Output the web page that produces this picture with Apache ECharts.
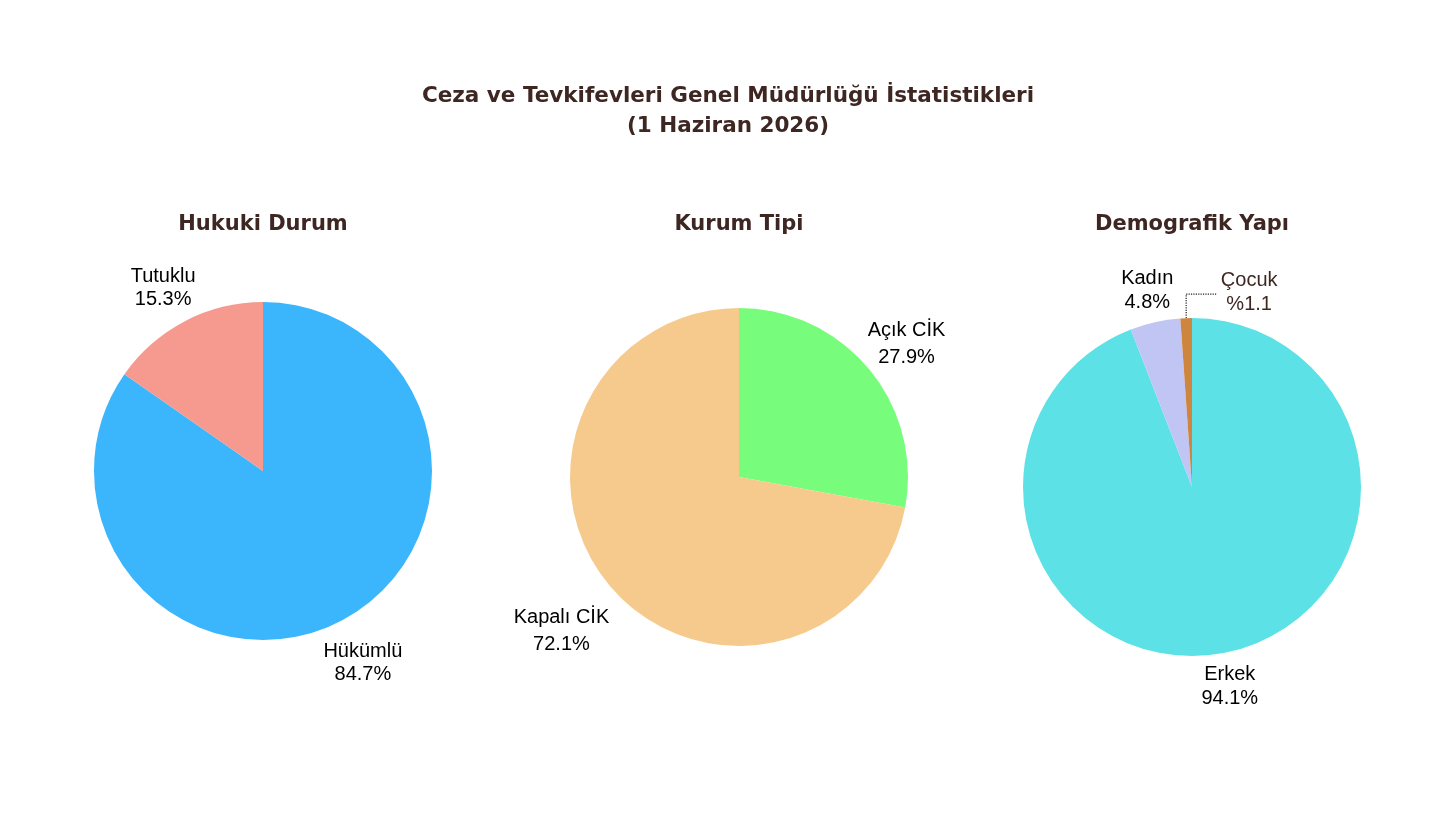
<!DOCTYPE html>
<html>
<head>
<meta charset="utf-8">
<title>Ceza ve Tevkifevleri Genel Müdürlüğü İstatistikleri</title>
<script src="https://cdn.jsdelivr.net/npm/echarts@6/dist/echarts.min.js"></script>
<style>
  html, body { margin: 0; padding: 0; background: #fff; }
  #chart { width: 1456px; height: 819px; }
</style>
</head>
<body>
<div id="chart"></div>
<script>
// veriler (yüzde olarak)
var hukukiNames = ['Hükümlü', 'Tutuklu']
var hukukiValues = [84.7, 15.3]
var kurumNames = ['Açık CİK', 'Kapalı CİK']
var kurumValues = [27.9, 72.1]
var demoNames = ['Erkek', 'Kadın', 'Çocuk']
var demoValues = [94.1, 4.8, 1.1]

var hukukiColors = ['#3bb5fc', '#f69a8f']
var kurumColors = ['#77fd7b', '#f6ca8c']
var demoColors = ['#5ce1e6', '#c0c5f4', '#cd853f']

var titleColor = '#3e2723'
var R = 169
var labelFont = 'Liberation Sans, Arial, sans-serif'
var titleFont = 'DejaVu Sans, sans-serif'

function pctText(p) {
  return p.name + '\n' + p.value.toFixed(1) + '%'
}

// dilimler
function mainPie(names, values, colors, center) {
  return {
    type: 'pie',
    center: center,
    radius: [0, R],
    startAngle: 90,
    clockwise: true,
    silent: true,
    animation: false,
    label: { show: false },
    labelLine: { show: false },
    emphasis: { disabled: true },
    itemStyle: { borderWidth: 0 },
    data: names.map(function (n, i) {
      return { name: n, value: values[i], itemStyle: { color: colors[i] } }
    })
  }
}

// etiketler için şeffaf halka: etiket (r0 + r) / 2 mesafesinde ortalanır
// nudge: dilim sırasına göre küçük [dx, dy] kaydırmaları
function labelRing(names, values, center, dist, lineHeight, hidden, nudge) {
  return {
    type: 'pie',
    center: center,
    radius: [R, 2 * dist - R],
    startAngle: 90,
    clockwise: true,
    silent: true,
    animation: false,
    itemStyle: { color: 'rgba(0,0,0,0)', borderWidth: 0 },
    label: {
      show: true,
      position: 'inside',
      color: '#000',
      fontFamily: labelFont,
      fontSize: 20,
      lineHeight: lineHeight,
      formatter: pctText
    },
    labelLine: { show: false },
    emphasis: { disabled: true },
    labelLayout: function (p) {
      var n = nudge[p.dataIndex]
      return n ? { dx: n[0], dy: n[1] } : {}
    },
    data: names.map(function (n, i) {
      var d = { name: n, value: values[i] }
      if (hidden.indexOf(i) >= 0) d.label = { show: false }
      return d
    })
  }
}

var demoSeries = mainPie(demoNames, demoValues, demoColors, [1192, 487])
// Çocuk dilimi küçük, etiketini noktalı çizgiyle dışarı al
demoSeries.data[2].label = {
  show: true,
  position: 'outside',
  color: titleColor,
  fontFamily: labelFont,
  fontSize: 20,
  lineHeight: 24,
  formatter: function (p) { return p.name + '\n%' + p.value.toFixed(1) }
}
demoSeries.data[2].labelLine = {
  show: true,
  length: 24,
  length2: 31,
  lineStyle: { type: 'dotted', color: '#222', width: 1.2 }
}
demoSeries.labelLayout = function (p) {
  if (p.dataIndex !== 2 || !p.labelLinePoints) return {}
  var p0 = p.labelLinePoints[0]
  var p1 = [p0[0], p0[1] - 24]
  var p2 = [p0[0] + 31, p0[1] - 24]
  return {
    x: p2[0] + 32,
    y: p2[1] - 2,
    align: 'center',
    verticalAlign: 'middle',
    labelLinePoints: [p0, p1, p2]
  }
}

var myChart = echarts.init(document.getElementById('chart'))
var subStyle = { color: titleColor, fontFamily: titleFont, fontWeight: 'bold', fontSize: 21, lineHeight: 26 }
myChart.setOption({
  animation: false,
  backgroundColor: '#fff',
  title: [
    {
      text: 'Ceza ve Tevkifevleri Genel Müdürlüğü İstatistikleri\n(1 Haziran 2026)',
      left: 'center',
      top: 81,
      padding: 0,
      textStyle: { color: titleColor, fontFamily: titleFont, fontWeight: 'bold', fontSize: 21.5, lineHeight: 30 }
    },
    { text: 'Hukuki Durum', left: 263, top: 212, textAlign: 'center', padding: 0, textStyle: subStyle },
    { text: 'Kurum Tipi', left: 739, top: 212, textAlign: 'center', padding: 0, textStyle: subStyle },
    { text: 'Demografik Yapı', left: 1192, top: 212, textAlign: 'center', padding: 0, textStyle: subStyle }
  ],
  series: [
    mainPie(hukukiNames, hukukiValues, hukukiColors, [263, 471]),
    labelRing(hukukiNames, hukukiValues, [263, 471], 213, 23, [], [null, [0, 9]]),
    mainPie(kurumNames, kurumValues, kurumColors, [739, 477]),
    labelRing(kurumNames, kurumValues, [739, 477], 215, 27, [], [[0, 6], [-10, 14]]),
    demoSeries,
    labelRing(demoNames, demoValues, [1192, 487], 202, 24, [2], [[0, -2], [0, 4]])
  ]
})
</script>
</body>
</html>
